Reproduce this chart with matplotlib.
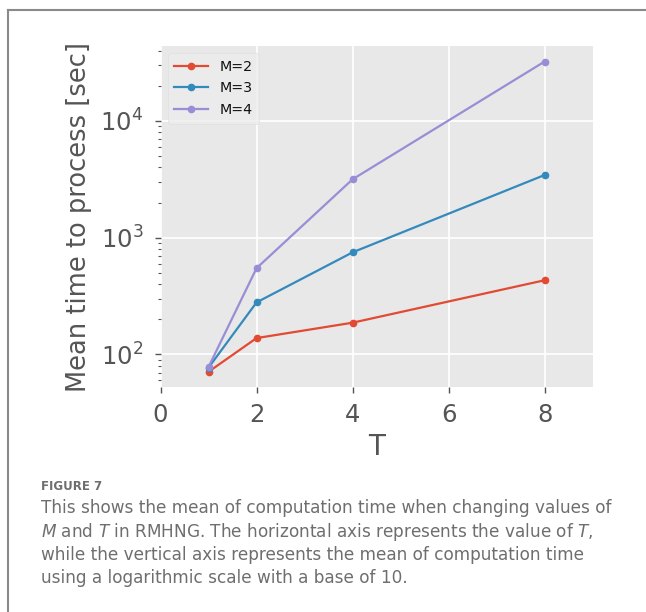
import matplotlib
matplotlib.use("Agg")
import matplotlib.pyplot as plt
from matplotlib.lines import Line2D

plt.style.use("ggplot")
plt.rcParams['font.family'] = ['DejaVu Sans']
plt.rcParams['mathtext.fontset'] = 'custom'
plt.rcParams['mathtext.rm'] = 'DejaVu Sans'
plt.rcParams['mathtext.it'] = 'DejaVu Sans:italic'

# ---- data ----
T_values = [1, 2, 4, 8]
series_labels = ["M=2", "M=3", "M=4"]
time_m2 = [71, 138, 187, 432]
time_m3 = [77, 279, 749, 3445]
time_m4 = [78, 548, 3165, 32300]
series_colors = ["#E24A33", "#348ABD", "#988ED5"]
x_ticks = [0, 2, 4, 6, 8]
x_label = "T"
y_label = "Mean time to process [sec]"
caption_title = "FIGURE 7"
caption_lines = [
    "This shows the mean of computation time when changing values of",
    r"$\mathit{M}$ and $\mathit{T}$ in RMHNG. The horizontal axis represents the value of $\mathit{T}$,",
    "while the vertical axis represents the mean of computation time",
    "using a logarithmic scale with a base of 10.",
]

W, H = 646, 612
fig = plt.figure(figsize=(W / 100, H / 100), dpi=100)
fig.patch.set_facecolor("white")

ax = fig.add_axes([160.5 / W, 1 - 387.3 / H, (592.7 - 160.5) / W, (387.3 - 46) / H])
ax.set_facecolor("#E8E8E8")

for vals, lab, col in zip([time_m2, time_m3, time_m4], series_labels, series_colors):
    ax.plot(T_values, vals, marker="o", markersize=4.5, linewidth=1.6, color=col, label=lab)

ax.set_yscale("log")
ax.set_xlim(0, 9)
ax.set_xticks(x_ticks)
ax.grid(True, which="major", color="white", linewidth=1.2)
ax.grid(False, which="minor")
for s in ax.spines.values():
    s.set_visible(False)

ax.tick_params(axis="both", which="major", labelsize=17.5, colors="#555555", length=4, width=1)
ax.tick_params(axis="x", which="major", pad=7.5)
ax.tick_params(axis="y", which="major", pad=8.5)
ax.tick_params(axis="y", which="minor", colors="#555555", length=2, width=0.8)
ax.set_xlabel(x_label, fontsize=20, color="#555555", labelpad=4)
ax.set_ylabel(y_label, fontsize=18.5, color="#555555", labelpad=6)

leg = ax.legend(loc="upper left", fontsize=10.3, handlelength=2.35, handletextpad=0.85,
                labelspacing=0.55, borderpad=0.45, framealpha=0.8,
                facecolor="#EDEDED", edgecolor="#DDDDDD", fancybox=True)
for t in leg.get_texts():
    t.set_color("#111111")

# frame lines
fig.add_artist(Line2D([7.5 / W, 7.5 / W], [0, 1 - 10 / H], transform=fig.transFigure,
                      color="#8A8A8A", linewidth=1.5))
fig.add_artist(Line2D([7.5 / W, 1], [1 - 10 / H, 1 - 10 / H], transform=fig.transFigure,
                      color="#8A8A8A", linewidth=1.5))

# caption
fig.text(40.7 / W, 1 - 490 / H, caption_title, fontsize=8.5, fontweight="bold",
         color="#6E6E6E", va="baseline", ha="left")
base_y = [513.3, 536.6, 560.0, 583.3]
for line, by in zip(caption_lines, base_y):
    fig.text(40.7 / W, 1 - by / H, line, fontsize=12.2, color="#6E6E6E",
             fontweight="normal", va="baseline", ha="left")

fig.savefig("out.png", dpi=100)
